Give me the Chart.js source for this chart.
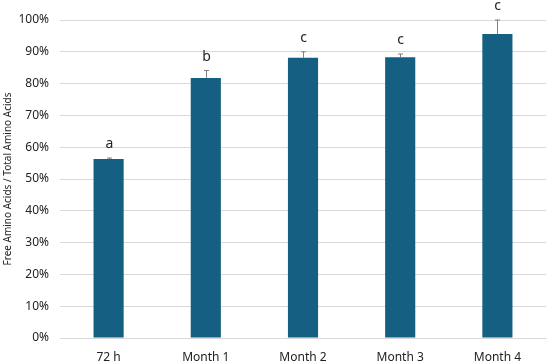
<!DOCTYPE html>
<html>
<head>
<meta charset="utf-8">
<script src="https://cdn.jsdelivr.net/npm/chart.js@4"></script>
<style>
  html, body { margin: 0; padding: 0; background: #fff; }
  #wrap { width: 550px; height: 362px; }
</style>
</head>
<body>
<div id="wrap"><canvas id="c"></canvas></div>
<script>
const labels = ['72 h', 'Month 1', 'Month 2', 'Month 3', 'Month 4'];
const ratio = [56.3, 81.8, 88.1, 88.3, 95.6];
const errPlus = [0.3, 2.3, 1.9, 1.0, 4.4];
const letters = ['a', 'b', 'c', 'c', 'c'];
const yTicks = [0, 10, 20, 30, 40, 50, 60, 70, 80, 90, 100];

const errorBars = {
  id: 'errorBars',
  afterDatasetsDraw(chart) {
    const ctx = chart.ctx;
    const y = chart.scales.y;
    const meta = chart.getDatasetMeta(0);
    ctx.save();
    ctx.strokeStyle = '#7f7f7f';
    ctx.lineWidth = 1;
    ctx.fillStyle = '#222';
    ctx.font = '14px "Noto Sans"';
    ctx.textAlign = 'center';
    ctx.textBaseline = 'alphabetic';
    meta.data.forEach((bar, i) => {
      const x = Math.round(bar.x) + 0.5;
      const top = y.getPixelForValue(ratio[i] + errPlus[i]);
      ctx.beginPath();
      ctx.moveTo(x, bar.y);
      ctx.lineTo(x, top);
      ctx.moveTo(x - 2.5, top);
      ctx.lineTo(x + 2.5, top);
      ctx.stroke();
      ctx.fillText(letters[i], x, top - 10);
    });
    ctx.restore();
  }
};

new Chart(document.getElementById('c').getContext('2d'), {
  type: 'bar',
  data: {
    labels,
    datasets: [{
      data: ratio,
      backgroundColor: '#155f82',
      barPercentage: 0.31,
      categoryPercentage: 1.0
    }]
  },
  options: {
    responsive: true,
    maintainAspectRatio: false,
    animation: false,
    layout: { padding: { left: 2, right: 4, top: 20, bottom: 0 } },
    scales: {
      x: {
        grid: { display: false },
        border: { color: '#d9d9d9' },
        ticks: { color: '#222', font: { family: 'Noto Sans', size: 12 }, padding: 4 },
        afterFit: s => { s.height = 24; }
      },
      y: {
        min: 0,
        max: 100,
        afterBuildTicks: s => { s.ticks = yTicks.map(v => ({ value: v })); },
        grid: { color: '#d9d9d9', drawTicks: false },
        border: { display: false },
        ticks: {
          color: '#222',
          font: { family: 'Noto Sans', size: 12 },
          padding: 11,
          callback: v => v + '%'
        },
        title: {
          display: true,
          text: 'Free Amino Acids / Total Amino Acids',
          color: '#222',
          font: { family: 'Noto Sans', size: 10 },
          padding: 0
        },
        afterFit: s => { s.width = 58; }
      }
    },
    plugins: {
      legend: { display: false },
      tooltip: { enabled: false }
    }
  },
  plugins: [errorBars]
});
</script>
</body>
</html>
